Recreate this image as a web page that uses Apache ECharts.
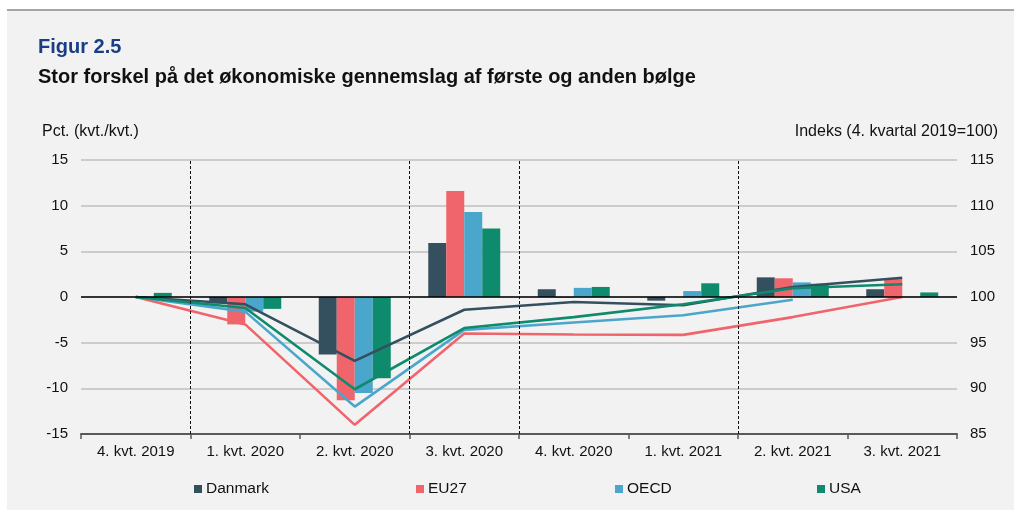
<!DOCTYPE html>
<html>
<head>
<meta charset="utf-8">
<script src="https://cdn.jsdelivr.net/npm/echarts@6/dist/echarts.min.js"></script>
<style>
  html, body { margin: 0; padding: 0; background: #ffffff; }
  #panel { position: absolute; left: 7px; top: 9px; width: 1007px; height: 501px; background: #f2f2f2; border-top: 2px solid #a6a6a6; box-sizing: border-box; }
  #chart { position: absolute; left: 0; top: 0; width: 1014px; height: 510px; }
</style>
</head>
<body>
<div id="panel"></div>
<div id="chart"></div>
<script>
// ---- Data ----
const categories = ['4. kvt. 2019', '1. kvt. 2020', '2. kvt. 2020', '3. kvt. 2020', '4. kvt. 2020', '1. kvt. 2021', '2. kvt. 2021', '3. kvt. 2021'];
const seriesNames = ['Danmark', 'EU27', 'OECD', 'USA'];
// Quarterly growth, pct. (bars, left axis)
const danmarkQoq = [0, -0.7, -6.3, 5.9, 0.85, -0.4, 2.15, 0.85];
const eu27Qoq    = [0, -3.0, -11.3, 11.6, -0.1, 0, 2.05, 2.0];
const oecdQoq    = [0, -1.6, -10.5, 9.3, 1.0, 0.65, 1.6, null];
const usaQoq     = [0.45, -1.3, -8.9, 7.5, 1.1, 1.5, 1.45, 0.5];
// Index, 4. kvartal 2019 = 100 (lines, right axis)
const danmarkIdx = [100, 99.2, 93.0, 98.6, 99.45, 99.1, 101.1, 102.1];
const eu27Idx    = [100, 97.0, 86.0, 96.0, 95.9, 95.85, 97.8, 100.0];
const oecdIdx    = [100, 98.4, 88.0, 96.4, 97.2, 98.0, 99.7, null];
const usaIdx     = [100, 98.8, 89.9, 96.6, 97.8, 99.2, 100.95, 101.4];
// Left / right axis ranges
const leftTicks = { min: -15, max: 15, interval: 5 };
const rightTicks = { min: 85, max: 115, interval: 5 };
// Wave separators (category boundaries) and wave labels
const waveBoundaries = [1, 3, 4, 6];
const waveLabels = [{ name: '1. bølge', x: 2, y: 13 }, { name: '2. bølge', x: 5, y: 13 }];

const colors = ['#34505f', '#f0646b', '#4ba6cb', '#0e8a6d'];
const qoq = [danmarkQoq, eu27Qoq, oecdQoq, usaQoq];
const idx = [danmarkIdx, eu27Idx, oecdIdx, usaIdx];
const FONT = '"Liberation Sans", Arial, sans-serif';

const chart = echarts.init(document.getElementById('chart'), null, { renderer: 'canvas' });

const series = [];
seriesNames.forEach((n, i) => {
  const s = {
    name: n, type: 'bar', xAxisIndex: 0, yAxisIndex: 0,
    data: qoq[i], barWidth: 18, barGap: '0%',
    itemStyle: { color: colors[i] },
    silent: true, animation: false
  };
  if (i === seriesNames.length - 1) {
    s.markLine = {
      silent: true, symbol: 'none', animation: false,
      label: { show: false },
      lineStyle: { color: '#000', type: 'solid', width: 1.5 },
      data: [{ yAxis: 0 }]
    };
  }
  series.push(s);
});
seriesNames.forEach((n, i) => {
  series.push({
    name: n, type: 'line', xAxisIndex: 0, yAxisIndex: 1,
    data: idx[i], showSymbol: false, symbol: 'none',
    lineStyle: { color: colors[i], width: 2.6 },
    itemStyle: { color: colors[i] },
    silent: true, animation: false, z: 3
  });
});
// dashed separators + wave labels on a hidden value x axis
series.push({
  name: 'waves', type: 'scatter', xAxisIndex: 1, yAxisIndex: 0,
  data: waveLabels.map(w => ({ value: [w.x, w.y], name: w.name })),
  symbolSize: 1, itemStyle: { opacity: 0 },
  label: { show: true, position: 'inside', formatter: p => p.name, color: '#111', fontSize: 15, fontFamily: FONT },
  silent: true, animation: false,
  markLine: {
    silent: true, symbol: 'none', animation: false,
    label: { show: false },
    lineStyle: { color: '#111', type: [3, 2], width: 1 },
    data: waveBoundaries.map(b => ({ xAxis: b }))
  }
});

const legends = seriesNames.map((n, i) => ({
  data: [n], left: [189, 411, 610, 812][i], top: 476,
  icon: 'rect', itemWidth: 8, itemHeight: 8, selectedMode: false,
  textStyle: { fontSize: 15.5, color: '#111', fontFamily: FONT, padding: [0, 0, 0, -1] }
}));

chart.setOption({
  backgroundColor: 'transparent',
  animation: false,
  textStyle: { fontFamily: FONT },
  grid: { left: 81, right: 57, top: 160, bottom: 76, containLabel: false },
  legend: legends,
  xAxis: [{
    type: 'category', data: categories, boundaryGap: true, position: 'bottom',
    axisLine: { onZero: false, lineStyle: { color: '#595959', width: 2 } },
    axisTick: { show: true, length: 5, lineStyle: { color: '#595959', width: 1.5 } },
    axisLabel: { fontSize: 15, color: '#111', margin: 10, fontFamily: FONT, interval: 0 },
    splitLine: { show: false }
  }, {
    type: 'value', min: 0, max: 8, show: false
  }],
  yAxis: [{
    type: 'value', min: leftTicks.min, max: leftTicks.max, interval: leftTicks.interval,
    axisLine: { show: false }, axisTick: { show: false },
    axisLabel: { fontSize: 15, color: '#111', margin: 13, fontFamily: FONT },
    splitLine: { show: true, lineStyle: { color: '#bfbfbf', width: 1.5 } }
  }, {
    type: 'value', min: rightTicks.min, max: rightTicks.max, interval: rightTicks.interval, position: 'right',
    axisLine: { show: false }, axisTick: { show: false },
    axisLabel: { fontSize: 15, color: '#111', margin: 13, fontFamily: FONT },
    splitLine: { show: false }
  }],
  graphic: [
    { type: 'text', left: 38, top: 37, style: { text: 'Figur 2.5', fill: '#1a3e85', font: 'bold 20px ' + FONT } },
    { type: 'text', left: 38, top: 67, style: { text: 'Stor forskel på det økonomiske gennemslag af første og anden bølge', fill: '#111', font: 'bold 20px ' + FONT } },
    { type: 'text', left: 42, top: 124, style: { text: 'Pct. (kvt./kvt.)', fill: '#111', font: '16px ' + FONT } },
    { type: 'text', right: 16, top: 124, style: { text: 'Indeks (4. kvartal 2019=100)', fill: '#111', font: '16px ' + FONT } }
  ],
  series: series
});
</script>
</body>
</html>
